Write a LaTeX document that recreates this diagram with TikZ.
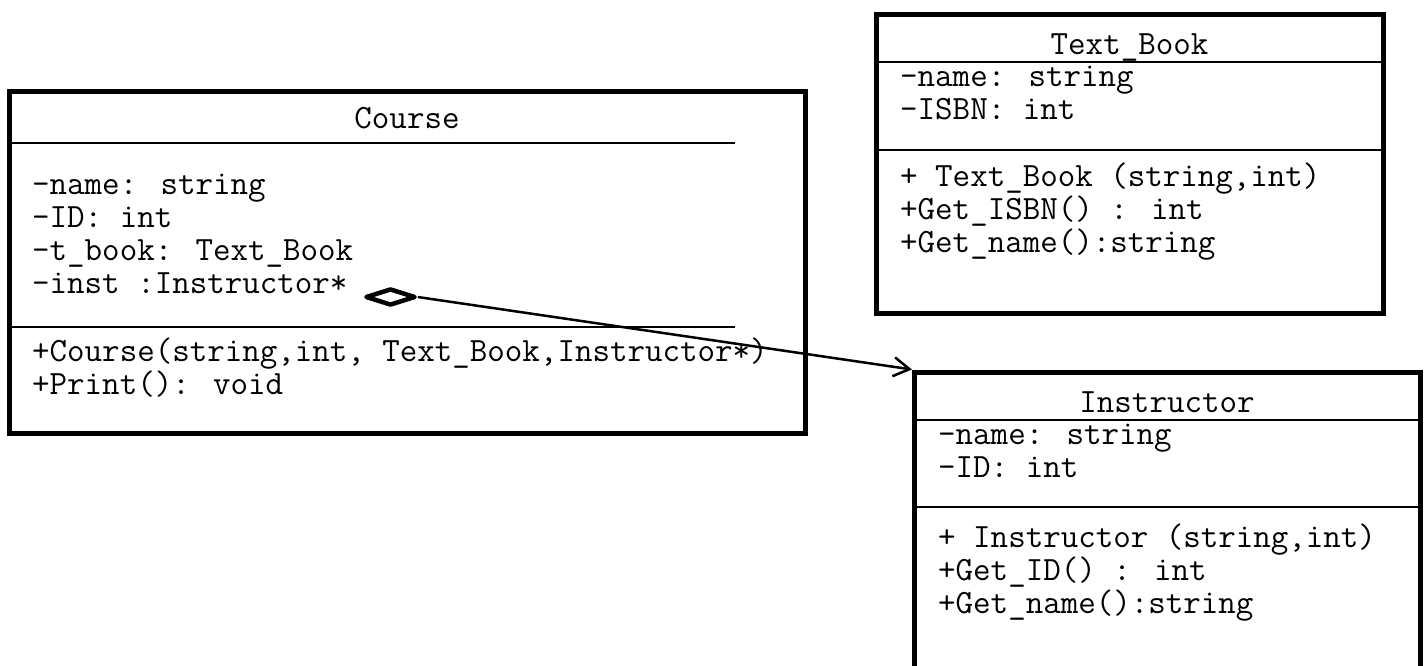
\documentclass[tikz,border=0pt]{standalone}
\usepackage{fontspec}
\usetikzlibrary{arrows.meta,shapes.geometric}

\begin{document}
\begin{tikzpicture}[x=1pt,y=-1pt,
  classbox/.style={draw, line width=5pt, inner sep=0pt},
  divider/.style={line width=2pt},
  member/.style={inner sep=0pt, anchor=base west, font=\ttfamily\fontsize{34}{37}\selectfont},
  classname/.style={inner sep=0pt, anchor=base, font=\ttfamily\fontsize{34}{37}\selectfont},
  aggmark/.style={draw, shape=diamond, line width=4.5pt, line join=round, fill=white,
    minimum width=50pt, minimum height=17pt, inner sep=0pt},
  link/.style={line width=2.5pt, -{Straight Barb[length=16pt,width=19pt]}},
]
\useasboundingbox (0,0) rectangle (1426,665);
\clip (0,0) rectangle (1426,665);

% ---- Course ----
\node[classbox, minimum width=795.5pt, minimum height=342pt] (course) at (407.25,262) {};
\draw[divider] (9.5,143) -- (735,143);
\draw[divider] (9.5,327) -- (735,327);
\node[classname] (courseT) at (407,128) {Course};
\node[member] (courseA1) at (32,194) {-name: string};
\node[member] (courseA2) at (32,227) {-ID: int};
\node[member] (courseA3) at (32,260) {-t\_book: Text\_Book};
\node[member] (courseA4) at (32,293) {-inst :Instructor*};
\node[member] (courseM1) at (32,361) {+Course(string,int, Text\_Book,Instructor*)};
\node[member] (courseM2) at (32,394) {+Print(): void};

% ---- Text_Book ----
\node[classbox, minimum width=507pt, minimum height=299pt] (book) at (1129.5,163.5) {};
\draw[divider] (876,62) -- (1383,62);
\draw[divider] (876,150) -- (1383,150);
\node[classname] (bookT) at (1129.5,54) {Text\_Book};
\node[member] (bookA1) at (900,86) {-name: string};
\node[member] (bookA2) at (900,119) {-ISBN: int};
\node[member] (bookM1) at (900,186) {+ Text\_Book (string,int)};
\node[member] (bookM2) at (900,219) {+Get\_ISBN() : int};
\node[member] (bookM3) at (900,252) {+Get\_name():string};

% ---- Instructor ----
\node[classbox, minimum width=505.5pt, minimum height=348pt] (instr) at (1167.25,546) {};
\draw[divider] (914.5,420) -- (1420,420);
\draw[divider] (914.5,507) -- (1420,507);
\node[classname] (instrT) at (1167,412) {Instructor};
\node[member] (instrA1) at (938,444) {-name: string};
\node[member] (instrA2) at (938,477) {-ID: int};
\node[member] (instrM1) at (938,547) {+ Instructor (string,int)};
\node[member] (instrM2) at (938,580) {+Get\_ID() : int};
\node[member] (instrM3) at (938,613) {+Get\_name():string};

% ---- aggregation Course <>-> Instructor ----
\node[aggmark] (agg) at (390.5,297) {};
\draw[link] (agg.east) -- (instr.north west);
\end{tikzpicture}
\end{document}
